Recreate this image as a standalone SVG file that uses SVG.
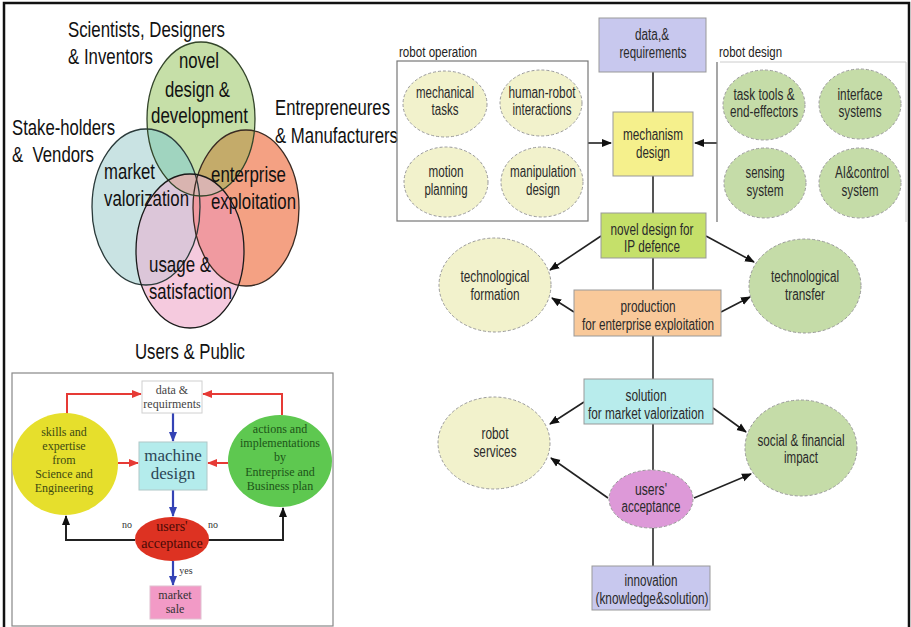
<svg xmlns="http://www.w3.org/2000/svg" width="911" height="627" viewBox="0 0 911 627">
<style>
.v{font-family:"Liberation Sans Narrow","Liberation Sans",Arial,sans-serif;font-size:22px;fill:#111}
.r{font-family:"Liberation Sans Narrow","Liberation Sans",Arial,sans-serif;font-size:16px;fill:#2a2a2a;text-anchor:middle}
.lbl{font-family:"Liberation Sans Narrow","Liberation Sans",Arial,sans-serif;font-size:14px;fill:#222}
.s{font-family:"Liberation Serif","Times New Roman",serif;text-anchor:middle}
.box{stroke:#999;stroke-width:1}
.el{stroke:#9a9a9a;stroke-width:1;stroke-dasharray:3 2}
.conn{stroke:#555;stroke-width:2;fill:none}
.arr{stroke:#222;stroke-width:1.6;fill:none;marker-end:url(#ab)}
.red{stroke:#e63a35;stroke-width:2;fill:none;marker-end:url(#mr)}
.blue{stroke:#3443b5;stroke-width:2.2;fill:none;marker-end:url(#mb)}
.blk{stroke:#222;stroke-width:2;fill:none;marker-end:url(#mk)}
.vc{stroke-width:1.3;fill:none}
</style>
<defs>
<marker id="ab" markerWidth="10" markerHeight="10" refX="9" refY="5" orient="auto" markerUnits="userSpaceOnUse"><path d="M0,1 L10,5 L0,9 z" fill="#111"/></marker>
<marker id="mr" markerWidth="10" markerHeight="10" refX="9" refY="5" orient="auto" markerUnits="userSpaceOnUse"><path d="M0,1 L10,5 L0,9 z" fill="#e63a35"/></marker>
<marker id="mb" markerWidth="10" markerHeight="10" refX="9" refY="5" orient="auto" markerUnits="userSpaceOnUse"><path d="M0,1 L10,5 L0,9 z" fill="#3443b5"/></marker>
<marker id="mk" markerWidth="10" markerHeight="10" refX="9" refY="5" orient="auto" markerUnits="userSpaceOnUse"><path d="M0,1 L10,5 L0,9 z" fill="#111"/></marker>
<clipPath id="cG"><ellipse cx="201" cy="119" rx="54" ry="77"/></clipPath>
<clipPath id="cT"><ellipse cx="146" cy="207" rx="54" ry="78"/></clipPath>
<clipPath id="cO"><ellipse cx="246" cy="208" rx="53" ry="78"/></clipPath>
</defs>
<rect width="911" height="627" fill="#fff"/>
<g id="frame" stroke="#111" stroke-width="2.5" fill="none">
<path d="M4,627 V3 H909 V627"/>
</g>

<!-- Venn diagram -->
<g id="venn">
<ellipse cx="146" cy="207" rx="54" ry="78" fill="#c9e3e3"/>
<ellipse cx="246" cy="208" rx="53" ry="78" fill="#f4a183"/>
<ellipse cx="201" cy="119" rx="54" ry="77" fill="#c6dfa8"/>
<ellipse cx="201" cy="119" rx="54" ry="77" fill="#a0d4bf" clip-path="url(#cT)"/>
<ellipse cx="201" cy="119" rx="54" ry="77" fill="#c4ab6a" clip-path="url(#cO)"/>
<ellipse cx="190" cy="251" rx="54" ry="77" fill="#f5cade"/>
<ellipse cx="190" cy="251" rx="54" ry="77" fill="#dcc6d9" clip-path="url(#cT)"/>
<ellipse cx="190" cy="251" rx="54" ry="77" fill="#f09aa0" clip-path="url(#cO)"/>
<ellipse cx="190" cy="251" rx="54" ry="77" fill="#d9b4b0" clip-path="url(#cG)"/>
<ellipse class="vc" cx="146" cy="207" rx="54" ry="78" stroke="#2a3a3a"/>
<ellipse class="vc" cx="246" cy="208" rx="53" ry="78" stroke="#3a2a22"/>
<ellipse class="vc" cx="201" cy="119" rx="54" ry="77" stroke="#33452a"/>
<ellipse class="vc" cx="190" cy="251" rx="54" ry="77" stroke="#1a1a1a"/>
<text class="v" x="68" y="37" textLength="157" lengthAdjust="spacingAndGlyphs">Scientists, Designers</text>
<text class="v" x="68" y="64" textLength="85" lengthAdjust="spacingAndGlyphs">&amp; Inventors</text>
<text class="v" x="179" y="68" textLength="40" lengthAdjust="spacingAndGlyphs">novel</text>
<text class="v" x="165" y="97" textLength="65" lengthAdjust="spacingAndGlyphs">design &amp;</text>
<text class="v" x="151" y="123" textLength="97" lengthAdjust="spacingAndGlyphs">development</text>
<text class="v" x="275" y="115" textLength="115" lengthAdjust="spacingAndGlyphs">Entrepreneures</text>
<text class="v" x="275" y="143" textLength="123" lengthAdjust="spacingAndGlyphs">&amp; Manufacturers</text>
<text class="v" x="12" y="135" textLength="103" lengthAdjust="spacingAndGlyphs">Stake-holders</text>
<text class="v" x="12" y="162" textLength="82" lengthAdjust="spacingAndGlyphs" xml:space="preserve">&amp;  Vendors</text>
<text class="v" x="104" y="179" textLength="51" lengthAdjust="spacingAndGlyphs">market</text>
<text class="v" x="104" y="206" textLength="85" lengthAdjust="spacingAndGlyphs">valorization</text>
<text class="v" x="211" y="182" textLength="75" lengthAdjust="spacingAndGlyphs">enterprise</text>
<text class="v" x="211" y="209" textLength="85" lengthAdjust="spacingAndGlyphs">exploitation</text>
<text class="v" x="149" y="272" textLength="62" lengthAdjust="spacingAndGlyphs">usage &amp;</text>
<text class="v" x="149" y="299" textLength="83" lengthAdjust="spacingAndGlyphs">satisfaction</text>
<text class="v" x="135" y="359" textLength="110" lengthAdjust="spacingAndGlyphs">Users &amp; Public</text>
</g>

<!-- Left flowchart -->
<g id="flow-box"><rect x="12" y="373" width="321" height="253" fill="#fff" stroke="#888" stroke-width="1.2"/></g>
<g id="flow-connectors">
<path class="red" d="M67,415 V394 H141"/>
<path class="red" d="M282,415 V394 H203"/>
<path class="red" d="M118,463 H138"/>
<path class="red" d="M228,463 H208"/>
<path class="blue" d="M173,413 V441"/>
<path class="blue" d="M173,490 V516"/>
<path class="blue" d="M173,561 V585"/>
<path class="blk" d="M135,540 H66 V516"/>
<path class="blk" d="M208,540 H283 V508"/>
<text class="s" x="127" y="528" font-size="10" fill="#333">no</text>
<text class="s" x="213" y="528" font-size="10" fill="#333">no</text>
<text class="s" x="186" y="574" font-size="10" fill="#333">yes</text>
</g>
<g id="f-data"><rect x="142" y="381" width="60" height="32" fill="#fff" stroke="#d0d0d0"/>
<text class="s" x="172" y="394" font-size="12" fill="#444">data &amp;</text>
<text class="s" x="172" y="408" font-size="12" fill="#444">requirments</text></g>
<g id="f-machine"><rect x="139" y="442" width="68" height="48" fill="#b4ecec" stroke="#b0c8c8"/>
<text class="s" x="173" y="461" font-size="17" fill="#2c4656">machine</text>
<text class="s" x="173" y="479" font-size="17" fill="#2c4656">design</text></g>
<g id="f-skills"><ellipse cx="65" cy="464" rx="53" ry="51" fill="#e6df2c"/>
<text class="s" font-size="12" fill="#3e4a12"><tspan x="64" y="436">skills and</tspan><tspan x="64" y="450">expertise</tspan><tspan x="64" y="464">from</tspan><tspan x="64" y="478">Science and</tspan><tspan x="64" y="492">Engineering</tspan></text></g>
<g id="f-actions"><ellipse cx="280" cy="461" rx="52" ry="46" fill="#5ec850"/>
<text class="s" font-size="12" fill="#1d5418"><tspan x="280" y="433">actions and</tspan><tspan x="280" y="447">implementations</tspan><tspan x="280" y="461">by</tspan><tspan x="280" y="476">Entreprise and</tspan><tspan x="280" y="490">Business plan</tspan></text></g>
<g id="f-users"><ellipse cx="172" cy="539" rx="37" ry="22" fill="#dd3222"/>
<text class="s" x="172" y="531" font-size="14" fill="#4a0a06">users'</text>
<text class="s" x="172" y="548" font-size="14" fill="#4a0a06">acceptance</text></g>
<g id="f-market"><rect x="150" y="586" width="51" height="33" fill="#f29ac6" stroke="#e0c0d0"/>
<text class="s" x="175" y="599" font-size="12" fill="#333">market</text>
<text class="s" x="175" y="613" font-size="12" fill="#333">sale</text></g>

<!-- Right diagram -->
<g id="connectors">
<path class="conn" d="M653,72 V112 M653,176 V213 M653,258 V290 M653,336 V379 M653,424 V470 M653,528 V566"/>
<path class="arr" d="M588,143 H611"/>
<path class="arr" d="M717,143 H695"/>
<path class="arr" d="M601,236 L550,270"/>
<path class="arr" d="M706,236 L754,262"/>
<path class="arr" d="M574,312 L552,298"/>
<path class="arr" d="M721,312 L750,297"/>
<path class="arr" d="M584,402 L550,424"/>
<path class="arr" d="M713,408 L746,432"/>
<path class="arr" d="M608,498 L551,458"/>
<path class="arr" d="M694,498 L751,474"/>
</g>
<g id="robot-operation">
<rect x="397" y="61" width="191" height="160" fill="none" stroke="#777" stroke-width="1.2"/>
<text class="lbl" x="399" y="57" textLength="78" lengthAdjust="spacingAndGlyphs">robot operation</text>
</g>
<g id="robot-design">
<path d="M720,62 H906 V222" fill="none" stroke="#ccc" stroke-width="1"/>
<path d="M717,62 V222" fill="none" stroke="#777" stroke-width="1.3"/>
<text class="lbl" x="719" y="57" textLength="63" lengthAdjust="spacingAndGlyphs">robot design</text>
</g>
<g id="data-req"><rect class="box" x="599" y="18" width="107" height="54" fill="#c8c8ee"/>
<text class="r" x="652" y="40" textLength="34" lengthAdjust="spacingAndGlyphs">data,&amp;</text>
<text class="r" x="653" y="58" textLength="67" lengthAdjust="spacingAndGlyphs">requirements</text></g>
<g id="mechanism"><rect class="box" x="613" y="112" width="80" height="64" fill="#f5f08c"/>
<text class="r" x="653" y="140" textLength="60" lengthAdjust="spacingAndGlyphs">mechanism</text>
<text class="r" x="653" y="158" textLength="34" lengthAdjust="spacingAndGlyphs">design</text></g>
<g id="mech-tasks"><ellipse class="el" cx="445" cy="104" rx="42" ry="33" fill="#f2f2cc"/>
<text class="r" x="445" y="98" textLength="58" lengthAdjust="spacingAndGlyphs">mechanical</text>
<text class="r" x="445" y="115" textLength="27" lengthAdjust="spacingAndGlyphs">tasks</text></g>
<g id="hri"><ellipse class="el" cx="541" cy="103" rx="41" ry="33" fill="#f2f2cc"/>
<text class="r" x="542" y="98" textLength="67" lengthAdjust="spacingAndGlyphs">human-robot</text>
<text class="r" x="542" y="115" textLength="59" lengthAdjust="spacingAndGlyphs">interactions</text></g>
<g id="motion"><ellipse class="el" cx="446" cy="182" rx="42" ry="35" fill="#f2f2cc"/>
<text class="r" x="446" y="177" textLength="35" lengthAdjust="spacingAndGlyphs">motion</text>
<text class="r" x="446" y="195" textLength="43" lengthAdjust="spacingAndGlyphs">planning</text></g>
<g id="manip"><ellipse class="el" cx="542" cy="182" rx="41" ry="35" fill="#f2f2cc"/>
<text class="r" x="543" y="177" textLength="66" lengthAdjust="spacingAndGlyphs">manipulation</text>
<text class="r" x="543" y="195" textLength="34" lengthAdjust="spacingAndGlyphs">design</text></g>
<g id="task-tools"><ellipse class="el" cx="764" cy="105" rx="41" ry="35" fill="#c5dca8"/>
<text class="r" x="764" y="100" textLength="61" lengthAdjust="spacingAndGlyphs">task tools &amp;</text>
<text class="r" x="764" y="117" textLength="68" lengthAdjust="spacingAndGlyphs">end-effectors</text></g>
<g id="interface"><ellipse class="el" cx="860" cy="104" rx="41" ry="35" fill="#c5dca8"/>
<text class="r" x="860" y="100" textLength="45" lengthAdjust="spacingAndGlyphs">interface</text>
<text class="r" x="860" y="117" textLength="43" lengthAdjust="spacingAndGlyphs">systems</text></g>
<g id="sensing"><ellipse class="el" cx="765" cy="183" rx="41" ry="35" fill="#c5dca8"/>
<text class="r" x="765" y="178" textLength="39" lengthAdjust="spacingAndGlyphs">sensing</text>
<text class="r" x="765" y="196" textLength="37" lengthAdjust="spacingAndGlyphs">system</text></g>
<g id="ai-control"><ellipse class="el" cx="860" cy="183" rx="41" ry="35" fill="#c5dca8"/>
<text class="r" x="862" y="178" textLength="54" lengthAdjust="spacingAndGlyphs">AI&amp;control</text>
<text class="r" x="860" y="196" textLength="37" lengthAdjust="spacingAndGlyphs">system</text></g>
<g id="novel-ip"><rect class="box" x="601" y="213" width="105" height="45" fill="#c5e06a"/>
<text class="r" x="652" y="235" textLength="83" lengthAdjust="spacingAndGlyphs">novel design for</text>
<text class="r" x="652" y="252" textLength="56" lengthAdjust="spacingAndGlyphs">IP defence</text></g>
<g id="tech-formation"><ellipse class="el" cx="495" cy="285" rx="56" ry="47" fill="#f2f2cc"/>
<text class="r" x="495" y="282" textLength="69" lengthAdjust="spacingAndGlyphs">technological</text>
<text class="r" x="495" y="300" textLength="49" lengthAdjust="spacingAndGlyphs">formation</text></g>
<g id="tech-transfer"><ellipse class="el" cx="805" cy="286" rx="56" ry="47" fill="#c5dca8"/>
<text class="r" x="805" y="282" textLength="68" lengthAdjust="spacingAndGlyphs">technological</text>
<text class="r" x="805" y="300" textLength="40" lengthAdjust="spacingAndGlyphs">transfer</text></g>
<g id="production"><rect class="box" x="574" y="290" width="147" height="46" fill="#f9c99a"/>
<text class="r" x="648" y="312" textLength="55" lengthAdjust="spacingAndGlyphs">production</text>
<text class="r" x="648" y="330" textLength="132" lengthAdjust="spacingAndGlyphs">for enterprise exploitation</text></g>
<g id="solution"><rect class="box" x="584" y="379" width="129" height="45" fill="#b8ecec"/>
<text class="r" x="646" y="401" textLength="41" lengthAdjust="spacingAndGlyphs">solution</text>
<text class="r" x="646" y="419" textLength="116" lengthAdjust="spacingAndGlyphs">for market valorization</text></g>
<g id="robot-services"><ellipse class="el" cx="494" cy="443" rx="56" ry="46" fill="#f2f2cc"/>
<text class="r" x="495" y="439" textLength="27" lengthAdjust="spacingAndGlyphs">robot</text>
<text class="r" x="495" y="457" textLength="43" lengthAdjust="spacingAndGlyphs">services</text></g>
<g id="social-impact"><ellipse class="el" cx="801" cy="448" rx="56" ry="48" fill="#c5dca8"/>
<text class="r" x="801" y="446" textLength="87" lengthAdjust="spacingAndGlyphs">social &amp; financial</text>
<text class="r" x="801" y="463" textLength="34" lengthAdjust="spacingAndGlyphs">impact</text></g>
<g id="users-acceptance"><ellipse class="el" cx="651" cy="499" rx="42" ry="29" fill="#dd99d8"/>
<text class="r" x="651" y="495" textLength="32" lengthAdjust="spacingAndGlyphs">users'</text>
<text class="r" x="651" y="512" textLength="59" lengthAdjust="spacingAndGlyphs">acceptance</text></g>
<g id="innovation"><rect class="box" x="592" y="566" width="118" height="44" fill="#c8c8ee"/>
<text class="r" x="651" y="586" textLength="53" lengthAdjust="spacingAndGlyphs">innovation</text>
<text class="r" x="652" y="604" textLength="113" lengthAdjust="spacingAndGlyphs">(knowledge&amp;solution)</text></g>
</svg>
